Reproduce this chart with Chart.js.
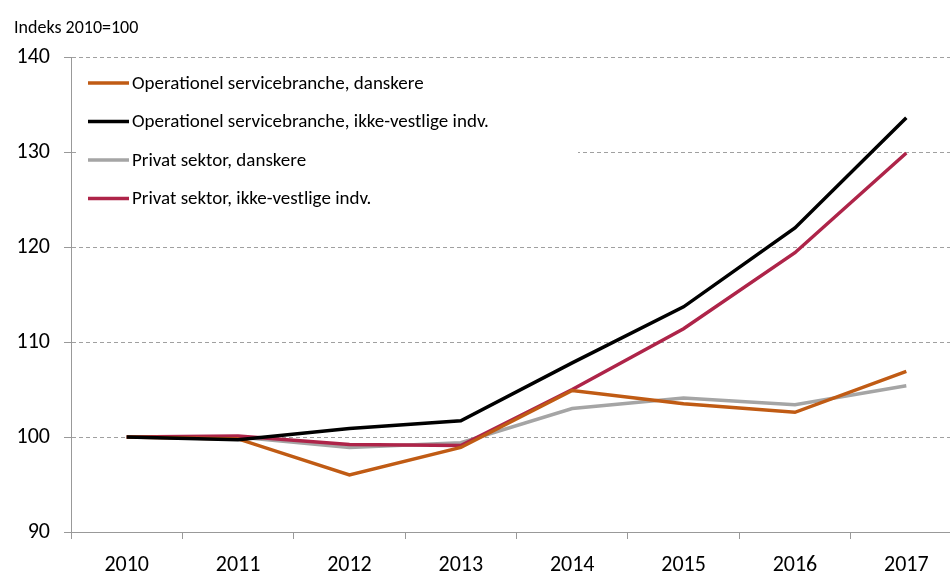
<!DOCTYPE html>
<html>
<head>
<meta charset="utf-8">
<script src="https://cdn.jsdelivr.net/npm/chart.js@4.4.1/dist/chart.umd.min.js"></script>
<style>
  html, body { margin: 0; padding: 0; background: #fff; overflow: hidden; }
  #wrap { width: 962px; height: 572px; }
</style>
</head>
<body>
<div id="wrap"><canvas id="chart" width="962" height="572"></canvas></div>
<script>
// 年
const years = ["2010", "2011", "2012", "2013", "2014", "2015", "2016", "2017"];

// 系列（指数 2010=100）
const opsDanish = [100, 99.8, 96.0, 98.9, 104.9, 103.5, 102.6, 106.9];
const opsNonWestern = [100, 99.7, 100.9, 101.7, 107.8, 113.7, 122.0, 133.6];
const privDanish = [100, 100.0, 98.9, 99.4, 103.0, 104.1, 103.4, 105.4];
const privNonWestern = [100, 100.1, 99.2, 99.1, 105.0, 111.4, 119.4, 129.9];

const seriesNames = [
  "Operationel servicebranche, danskere",
  "Operationel servicebranche, ikke-vestlige indv.",
  "Privat sektor, danskere",
  "Privat sektor, ikke-vestlige indv."
];
const seriesColors = ["#C05B14", "#000000", "#A5A5A5", "#AE2449"];

const yTicks = [90, 100, 110, 120, 130, 140];
const yTitle = "Indeks 2010=100";

const FONT = "Carlito, Calibri, Lato, sans-serif";

// 凡例をプロット内に描く
const innerLegend = {
  id: "innerLegend",
  afterDraw(chart) {
    const ctx = chart.ctx;
    ctx.save();
    ctx.fillStyle = "#fff";
    ctx.fillRect(76, 64, 502, 150);
    ctx.font = "19px " + FONT;
    ctx.textBaseline = "middle";
    ctx.fillStyle = "#000";
    seriesNames.forEach((name, i) => {
      const y = 83 + i * 38.5;
      ctx.strokeStyle = seriesColors[i];
      ctx.lineWidth = 3.5;
      ctx.beginPath();
      ctx.moveTo(88, y);
      ctx.lineTo(129, y);
      ctx.stroke();
      ctx.fillText(name, 132, y + 1);
    });
    // 軸タイトル
    ctx.font = "18px " + FONT;
    ctx.textBaseline = "alphabetic";
    ctx.fillText(yTitle, 14, 33);
    ctx.restore();
  }
};

Chart.defaults.font.family = FONT;
Chart.defaults.color = "#000";

new Chart(document.getElementById("chart").getContext("2d"), {
  type: "line",
  data: {
    labels: years,
    datasets: [opsDanish, opsNonWestern, privDanish, privNonWestern].map((d, i) => ({
      label: seriesNames[i],
      data: d,
      borderColor: seriesColors[i],
      backgroundColor: seriesColors[i],
      borderWidth: 3.5,
      pointRadius: 0,
      tension: 0,
      order: [1, 0, 3, 2][i]
    }))
  },
  options: {
    responsive: false,
    animation: false,
    layout: { padding: { top: 57, right: 0, left: 0, bottom: 0 } },
    plugins: {
      legend: { display: false },
      tooltip: { enabled: false }
    },
    scales: {
      x: {
        offset: true,
        grid: {
          offset: true,
          drawOnChartArea: false,
          drawTicks: true,
          tickLength: 7,
          color: "#999"
        },
        border: { color: "#999", width: 1 },
        ticks: { font: { size: 22 }, padding: 13, maxRotation: 0 },
        afterFit(scale) { scale.height = 40; }
      },
      y: {
        min: 90,
        max: 140,
        afterBuildTicks(scale) { scale.ticks = yTicks.map(v => ({ value: v })); },
        grid: {
          color: "#A0A0A0",
          tickLength: 7,
          tickColor: "#999"
        },
        border: { color: "#999", width: 1, dash: [4, 3] },
        ticks: { font: { size: 22 }, padding: 14 },
        afterFit(scale) { scale.width = 71; }
      }
    }
  },
  plugins: [innerLegend]
});
</script>
</body>
</html>
